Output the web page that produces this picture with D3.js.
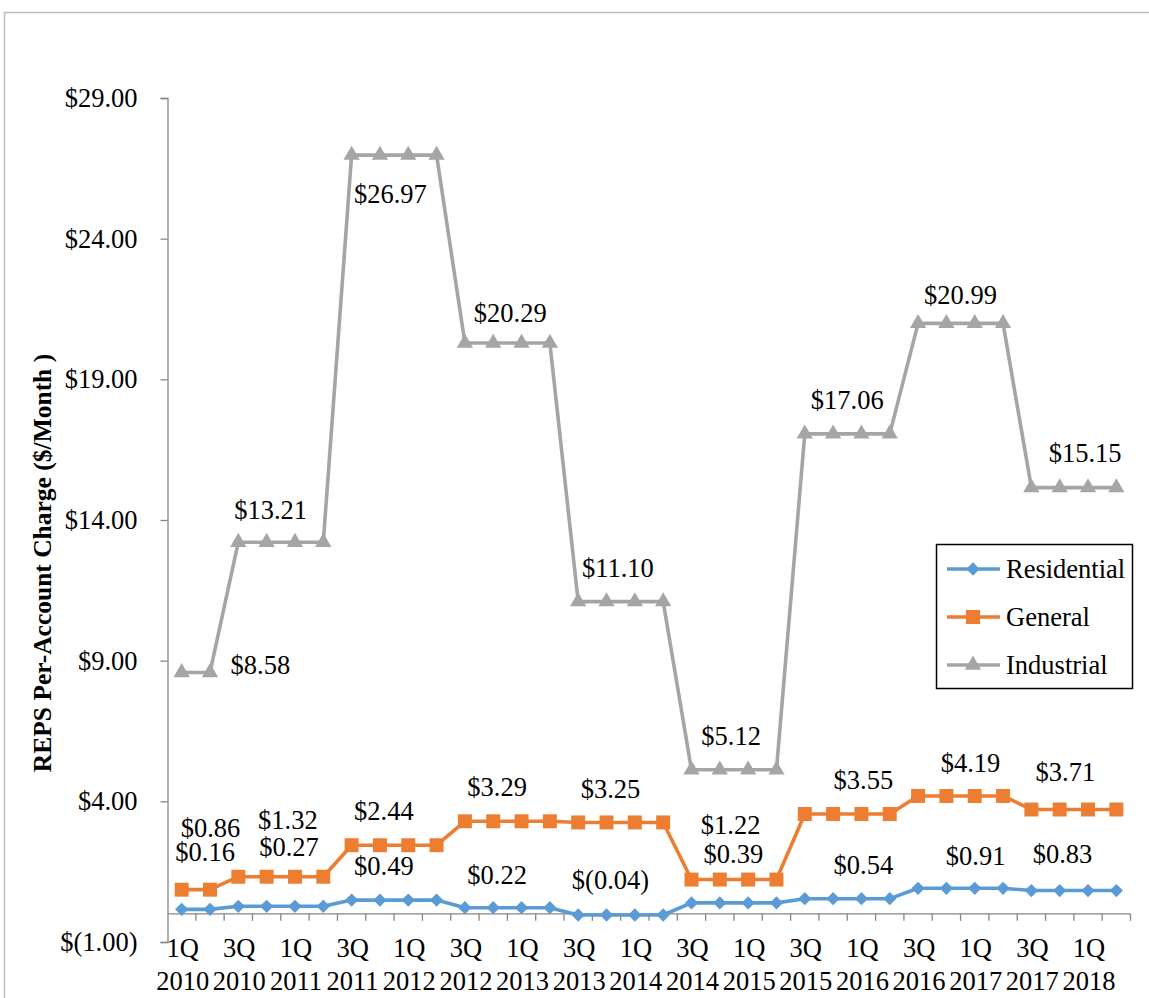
<!DOCTYPE html>
<html>
<head>
<meta charset="utf-8">
<script src="https://cdn.jsdelivr.net/npm/d3@7"></script>
<style>
  body { margin: 0; background: #fff; }
  text { font-family: 'Liberation Serif', 'Times New Roman', serif; }
</style>
</head>
<body>
<div class="canvas"></div>
<script>
// Categories (quarters)
const quarters = [
    '1Q 2010', '2Q 2010', '3Q 2010', '4Q 2010',
    '1Q 2011', '2Q 2011', '3Q 2011', '4Q 2011',
    '1Q 2012', '2Q 2012', '3Q 2012', '4Q 2012',
    '1Q 2013', '2Q 2013', '3Q 2013', '4Q 2013',
    '1Q 2014', '2Q 2014', '3Q 2014', '4Q 2014',
    '1Q 2015', '2Q 2015', '3Q 2015', '4Q 2015',
    '1Q 2016', '2Q 2016', '3Q 2016', '4Q 2016',
    '1Q 2017', '2Q 2017', '3Q 2017', '4Q 2017',
    '1Q 2018', '2Q 2018'
];

// Series values ($/month)
const residential = [
    0.16, 0.16, 0.27, 0.27, 0.27, 0.27, 0.49, 0.49, 0.49, 0.49,
    0.22, 0.22, 0.22, 0.22, -0.04, -0.04, -0.04, -0.04, 0.39, 0.39,
    0.39, 0.39, 0.54, 0.54, 0.54, 0.54, 0.91, 0.91, 0.91, 0.91,
    0.83, 0.83, 0.83, 0.83
];
const general = [
    0.86, 0.86, 1.32, 1.32, 1.32, 1.32, 2.44, 2.44, 2.44, 2.44,
    3.29, 3.29, 3.29, 3.29, 3.25, 3.25, 3.25, 3.25, 1.22, 1.22,
    1.22, 1.22, 3.55, 3.55, 3.55, 3.55, 4.19, 4.19, 4.19, 4.19,
    3.71, 3.71, 3.71, 3.71
];
const industrial = [
    8.58, 8.58, 13.21, 13.21, 13.21, 13.21, 26.97, 26.97, 26.97, 26.97,
    20.29, 20.29, 20.29, 20.29, 11.10, 11.10, 11.10, 11.10, 5.12, 5.12,
    5.12, 5.12, 17.06, 17.06, 17.06, 17.06, 20.99, 20.99, 20.99, 20.99,
    15.15, 15.15, 15.15, 15.15
];

// Y tick values
const yTicks = [-1, 4, 9, 14, 19, 24, 29];

// Which data point each data label reads its value from
const labelIndex = [0, 2, 6, 10, 14, 18, 22, 26, 30];

// Label placement: [category position, pixel offset from point]
const resLabelPos = [[0.83, -48], [3.79, -50], [7.14, -25], [11.14, -24], [15.14, -26],
    [19.48, -40], [24.07, -25], [28.03, -23], [31.1, -28]];
const genLabelPos = [[1.02, -53], [3.75, -48], [7.14, -25], [11.14, -25], [15.14, -24],
    [19.38, -46], [24.07, -25], [27.85, -24], [31.2, -28]];
const indLabelPos = [[2.78, 2], [3.14, -23], [7.37, 48], [11.6, -21], [15.4, -25],
    [19.4, -25], [23.5, -25], [27.5, -19], [31.9, -26]];

const series = [
    {name: 'Residential', values: residential, color: '#5B9BD5', marker: 'diamond', labels: resLabelPos},
    {name: 'General', values: general, color: '#ED7D31', marker: 'square', labels: genLabelPos},
    {name: 'Industrial', values: industrial, color: '#A5A5A5', marker: 'triangle', labels: indLabelPos}
];

const width = 1149, height = 998;
const fontSize = '26.5px';

const svg = d3.select('.canvas')
    .append('svg')
        .attr('width', width)
        .attr('height', height);

// Chart border
svg.append('rect')
    .attr('x', 4.5).attr('y', 12.5)
    .attr('width', 1300).attr('height', 1300)
    .attr('fill', 'none')
    .attr('stroke', '#BDBDBD')
    .attr('stroke-width', 1.5);

// Scales
const x = d3.scaleBand()
    .domain(quarters)
    .range([167.5, 1130.5]);

const xPos = p => x.range()[0] + x.step() * (p + 0.5);

const y = d3.scaleLinear()
    .domain([-1, 29])
    .range([942, 98]);

const money = v => v < 0 ? `$(${d3.format('.2f')(-v)})` : `$${d3.format('.2f')(v)}`;

// Y axis
const yAxis = d3.axisLeft(y)
    .tickValues(yTicks)
    .tickSize(7)
    .tickPadding(23)
    .tickFormat(money);

const yG = svg.append('g')
    .attr('transform', `translate(${x.range()[0]}, 0)`)
    .call(yAxis);
yG.select('.domain').attr('stroke', '#868686').attr('stroke-width', 1.3);
yG.selectAll('.tick line').attr('stroke', '#868686').attr('stroke-width', 1.3);
yG.selectAll('.tick text')
    .attr('font-family', "'Liberation Serif', 'Times New Roman', serif")
    .attr('font-size', fontSize)
    .attr('fill', '#000')
    .attr('dy', '0.32em');

// X axis at zero
const xG = svg.append('g');
xG.append('line')
    .attr('x1', x.range()[0]).attr('x2', x.range()[1])
    .attr('y1', y(0)).attr('y2', y(0))
    .attr('stroke', '#868686').attr('stroke-width', 1.3);

const boundaries = quarters.map(q => x(q)).concat([x.range()[1]]);
xG.selectAll('.xtick')
    .data(boundaries.slice(1))
    .enter()
    .append('line')
        .attr('x1', d => d).attr('x2', d => d)
        .attr('y1', y(0)).attr('y2', y(0) + 7)
        .attr('stroke', '#868686').attr('stroke-width', 1.3);

const xLabels = xG.selectAll('.xlabel')
    .data(quarters.filter((q, i) => i % 2 === 0))
    .enter()
    .append('text')
        .attr('text-anchor', 'middle')
        .attr('font-size', fontSize)
        .attr('fill', '#000');
xLabels.append('tspan')
    .attr('x', d => x(d) + x.bandwidth() / 2 + 1)
    .attr('y', 957)
    .text(d => d.split(' ')[0]);
xLabels.append('tspan')
    .attr('x', d => x(d) + x.bandwidth() / 2 + 1)
    .attr('y', 990)
    .text(d => d.split(' ')[1]);

// Y axis title
svg.append('text')
    .attr('transform', 'translate(51, 563) rotate(-90)')
    .attr('text-anchor', 'middle')
    .attr('font-size', '25.5px')
    .attr('font-weight', 'bold')
    .text('REPS Per-Account Charge ($/Month )');

// Marker shapes
const markerPath = {
    diamond: d3.symbol(d3.symbolSquare, 88)(),
    square: d3.symbol(d3.symbolSquare, 195)(),
    triangle: d3.symbol(d3.symbolTriangle, 115)()
};
const markerRotate = {diamond: 45, square: 0, triangle: 0};

const line = d3.line()
    .x((d, i) => x(quarters[i]) + x.bandwidth() / 2)
    .y(d => y(d));

series.forEach(s => {
    const g = svg.append('g');
    g.append('path')
        .datum(s.values)
        .attr('d', line)
        .attr('fill', 'none')
        .attr('stroke', s.color)
        .attr('stroke-width', 3.6)
        .attr('stroke-linejoin', 'round');
    g.selectAll('.mark')
        .data(s.values)
        .enter()
        .append('path')
            .attr('d', markerPath[s.marker])
            .attr('transform', (d, i) =>
                `translate(${x(quarters[i]) + x.bandwidth() / 2}, ${y(d)}) rotate(${markerRotate[s.marker]})`)
            .attr('fill', s.color);
});

// Data labels
series.forEach(s => {
    svg.append('g').selectAll('text')
        .data(labelIndex)
        .enter()
        .append('text')
            .attr('x', (d, k) => xPos(s.labels[k][0]))
            .attr('y', (d, k) => y(s.values[d]) + s.labels[k][1])
            .attr('text-anchor', 'middle')
            .attr('font-size', fontSize)
            .attr('fill', '#000')
            .text(d => money(s.values[d]));
});

// Legend
const legend = svg.append('g');
legend.append('rect')
    .attr('x', 936.5).attr('y', 544.5)
    .attr('width', 196).attr('height', 144)
    .attr('fill', '#fff')
    .attr('stroke', '#000')
    .attr('stroke-width', 1.5);

const legendRows = legend.selectAll('.row')
    .data(series)
    .enter()
    .append('g')
        .attr('transform', (d, i) => `translate(0, ${569 + i * 48})`);
legendRows.append('line')
    .attr('x1', 947).attr('x2', 1000)
    .attr('stroke', d => d.color)
    .attr('stroke-width', 3.6);
legendRows.append('path')
    .attr('d', d => markerPath[d.marker])
    .attr('transform', d => `translate(973, 0) rotate(${markerRotate[d.marker]})`)
    .attr('fill', d => d.color);
legendRows.append('text')
    .attr('x', 1006)
    .attr('y', 9)
    .attr('font-size', fontSize)
    .attr('fill', '#000')
    .text(d => d.name);
</script>
</body>
</html>
